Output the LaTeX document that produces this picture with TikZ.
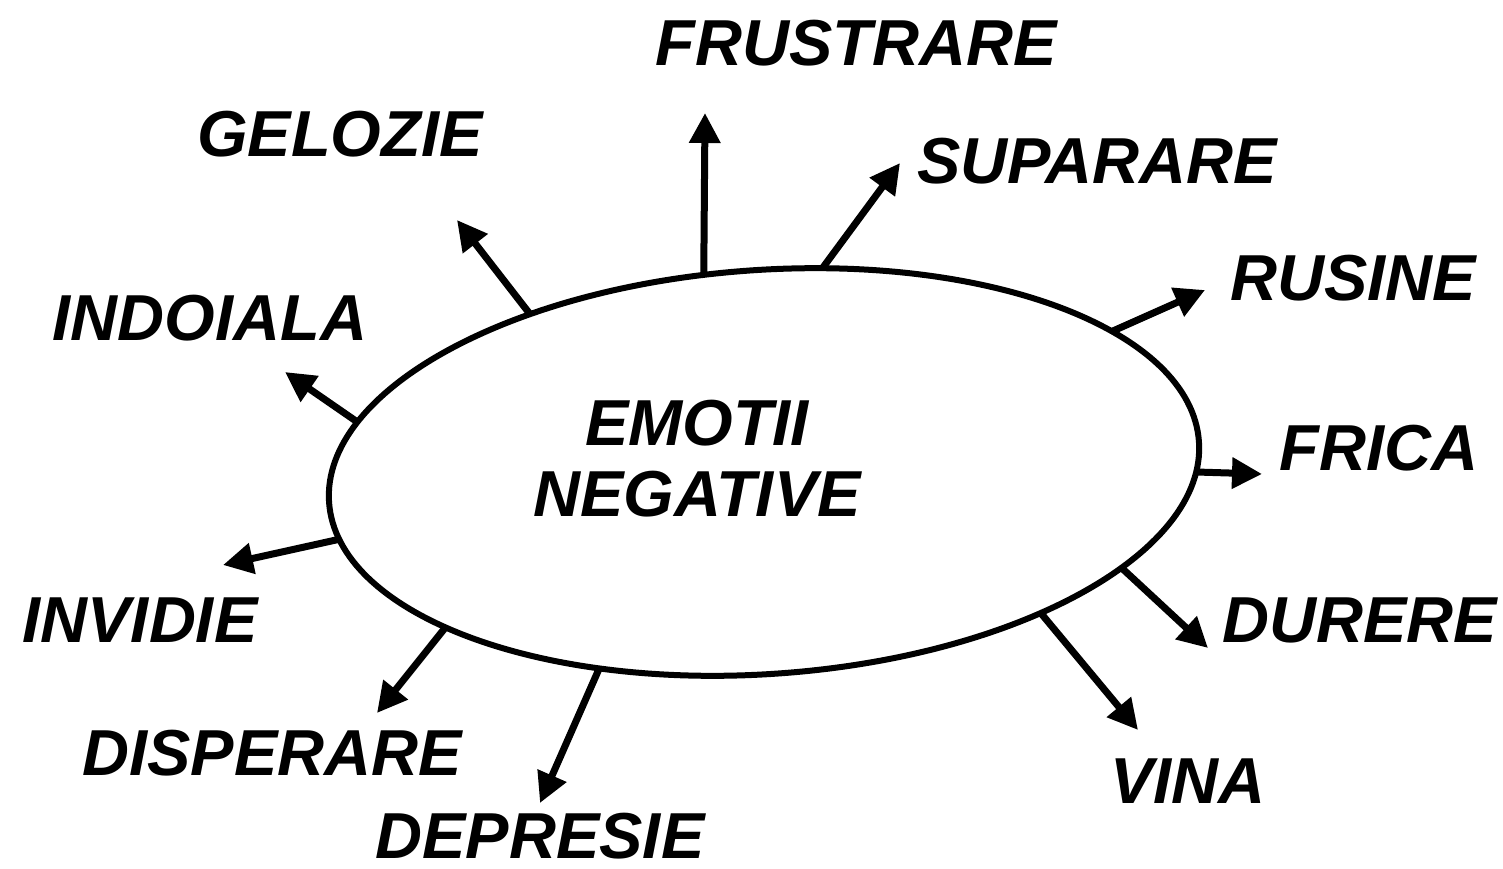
\documentclass[tikz,border=0pt]{standalone}
\usepackage{fontspec}
\setmainfont{Liberation Sans}
\usetikzlibrary{arrows.meta,shapes.geometric}
\begin{document}
\begin{tikzpicture}[x=1pt,y=-1pt,
  lbl/.style={font=\fontsize{65}{71}\selectfont\bfseries\itshape, inner sep=0pt, text=black},
  arr/.style={line width=7pt, -{Triangle[length=30pt,width=30pt]}},
  oval/.style={draw, ellipse, line width=6pt, minimum width=872pt, minimum height=404pt, inner sep=0pt, outer sep=0pt, rotate=4}]
\useasboundingbox[fill=white] (0,0) rectangle (1503,869);

\node[oval] (E) at (764,472) {};
\node[lbl, align=center] (C) at (697,459) {EMOTII\\NEGATIVE};

\node[lbl] (frus) at (856,43) {FRUSTRARE};
\node[lbl] (gel) at (340,134) {GELOZIE};
\node[lbl] (sup) at (1097,161) {SUPARARE};
\node[lbl] (rus) at (1353,278) {RUSINE};
\node[lbl] (ind) at (210,318) {INDOIALA};
\node[lbl] (fri) at (1379,448) {FRICA};
\node[lbl] (inv) at (140,620) {INVIDIE};
\node[lbl] (dur) at (1360,620) {DURERE};
\node[lbl] (dis) at (272,753) {DISPERARE};
\node[lbl] (vin) at (1188,781) {VINA};
\node[lbl] (dep) at (540,836) {DEPRESIE};

\coordinate (t1) at (705,113);
\coordinate (t2) at (900,163);
\coordinate (t3) at (1205,290);
\coordinate (t4) at (1262,474);
\coordinate (t5) at (1208,648);
\coordinate (t6) at (1138,730);
\coordinate (t7) at (540,803);
\coordinate (t8) at (377,713);
\coordinate (t9) at (223,565);
\coordinate (t10) at (285,372);
\coordinate (t11) at (457,220);

\draw[arr] (E.103.5) -- (t1);
\draw[arr] (E.70.1) -- (t2);
\draw[arr] (E.18.9) -- (t3);
\draw[arr] (E.-4.4) -- (t4);
\draw[arr] (E.-19.8) -- (t5);
\draw[arr] (E.-31.2) -- (t6);
\draw[arr] (E.226.7) -- (t7);
\draw[arr] (E.202.0) -- (t8);
\draw[arr] (E.185.0) -- (t9);
\draw[arr] (E.169.0) -- (t10);
\draw[arr] (E.142.2) -- (t11);
\end{tikzpicture}
\end{document}
